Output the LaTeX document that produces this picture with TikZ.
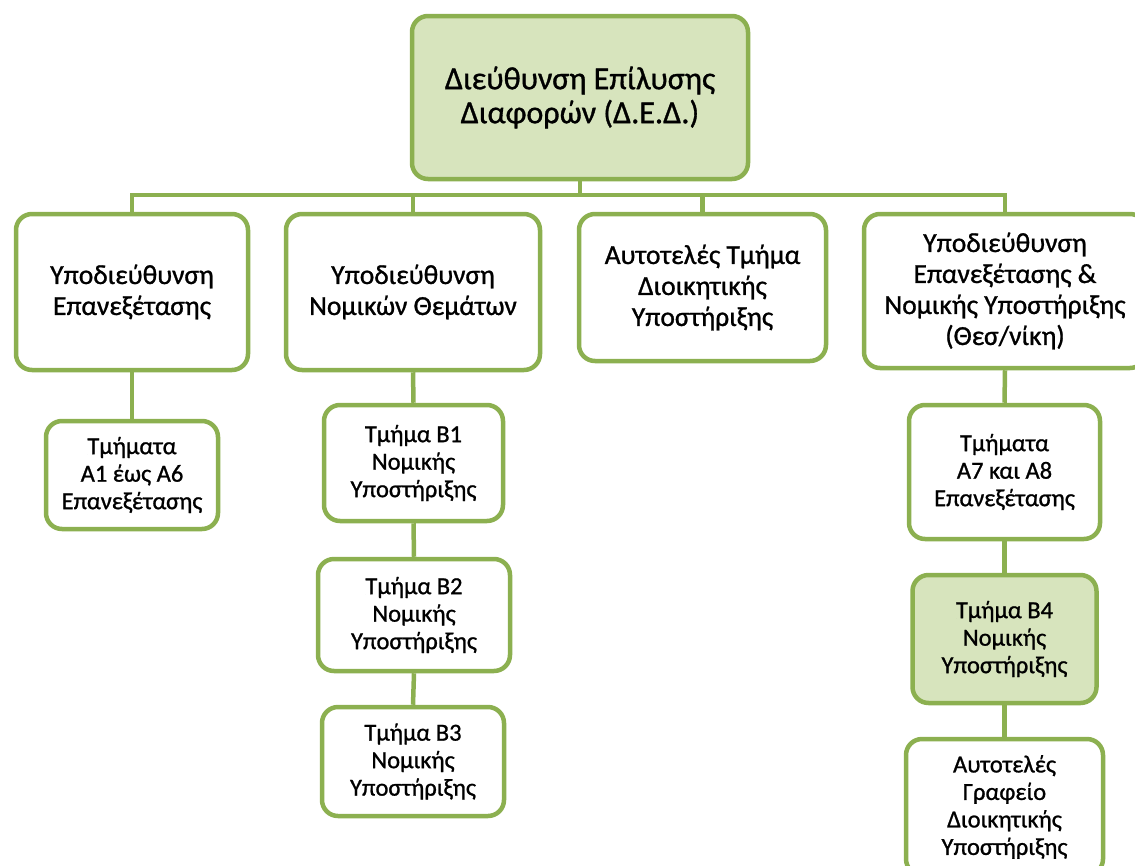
\documentclass[tikz,border=0pt]{standalone}
\usepackage{fontspec}
\setmainfont{Carlito}[FakeBold=1]
\definecolor{edge}{RGB}{140,176,80}
\definecolor{lightfill}{RGB}{215,228,189}
\tikzset{
  x=1pt,y=-1pt,
  orgbox/.style={draw=edge, line width=4.5pt, rounded corners=16pt, fill=white,
    inner sep=0pt, align=center, text=black},
  greenbox/.style={orgbox, fill=lightfill},
  topfont/.style={font=\fontsize{32}{34}\selectfont},
  midfont/.style={font=\fontsize{27.5}{31}\selectfont},
  lowfont/.style={font=\fontsize{24.5}{27.5}\selectfont},
  conn/.style={draw=edge, line width=4.5pt}
}
\begin{document}
\begin{tikzpicture}
\useasboundingbox (0,0) rectangle (1135,865);
\clip (0,0) rectangle (1135,865);
\coordinate (busy) at (0,195);
% nodes
\node[greenbox, topfont, minimum width=336pt, minimum height=163pt] (top) at (580,97.5)
  {Διεύθυνση Επίλυσης\\Διαφορών (Δ.Ε.Δ.)};
\node[orgbox, midfont, minimum width=232pt, minimum height=156pt] (b1) at (132,292)
  {Υποδιεύθυνση\\Επανεξέτασης};
\node[orgbox, midfont, minimum width=254pt, minimum height=156pt] (b2) at (413,292)
  {Υποδιεύθυνση\\Νομικών Θεμάτων};
\node[orgbox, midfont, minimum width=247pt, minimum height=147pt] (b3) at (702.5,287.5)
  {Αυτοτελές Τμήμα\\Διοικητικής\\Υποστήριξης};
\node[orgbox, midfont, minimum width=282pt, minimum height=154pt] (b4) at (1005,291)
  {Υποδιεύθυνση\\Επανεξέτασης \&\\Νομικής Υποστήριξης\\(Θεσ/νίκη)};
\node[orgbox, lowfont, minimum width=172pt, minimum height=108pt] (a16) at (132,475)
  {Τμήματα\\Α1 έως Α6\\Επανεξέτασης};
\node[orgbox, lowfont, minimum width=179pt, minimum height=116pt] (nb1) at (413.5,463)
  {Τμήμα Β1\\Νομικής\\Υποστήριξης};
\node[orgbox, lowfont, minimum width=192pt, minimum height=112pt] (nb2) at (414,615)
  {Τμήμα Β2\\Νομικής\\Υποστήριξης};
\node[orgbox, lowfont, minimum width=182pt, minimum height=109pt] (nb3) at (413,761.5)
  {Τμήμα Β3\\Νομικής\\Υποστήριξης};
\node[orgbox, lowfont, minimum width=191pt, minimum height=134pt] (a78) at (1004.5,472)
  {Τμήματα\\Α7 και Α8\\Επανεξέτασης};
\node[greenbox, lowfont, minimum width=184pt, minimum height=128pt] (nb4) at (1004.5,639)
  {Τμήμα Β4\\Νομικής\\Υποστήριξης};
\node[orgbox, lowfont, minimum width=197pt, minimum height=136pt] (ag) at (1004.5,807)
  {Αυτοτελές\\Γραφείο\\Διοικητικής\\Υποστήριξης};
% connectors
\draw[conn] (top.south) -- (top.south |- busy);
\draw[conn] (b1.north) -- (b1.north |- busy) -- (b4.north |- busy) -- (b4.north);
\draw[conn] (b2.north) -- (b2.north |- busy);
\draw[conn] (b3.north) -- (b3.north |- busy);
\draw[conn] (b1.south) -- (a16.north);
\draw[conn] (b2.south) -- (nb1.north);
\draw[conn] (nb1.south) -- (nb2.north);
\draw[conn] (nb2.south) -- (nb3.north);
\draw[conn] (b4.south) -- (a78.north);
\draw[conn] (a78.south) -- (nb4.north);
\draw[conn] (nb4.south) -- (ag.north);
\end{tikzpicture}
\end{document}
